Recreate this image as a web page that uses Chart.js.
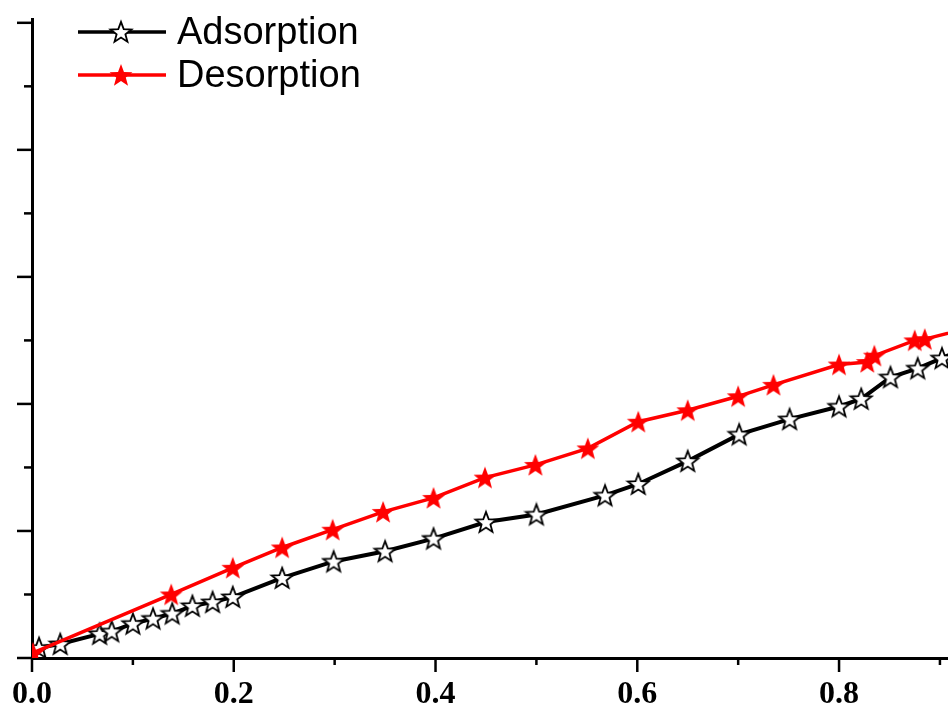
<!DOCTYPE html>
<html><head><meta charset="utf-8">
<script src="https://cdn.jsdelivr.net/npm/chart.js@4"></script>
<style>html,body{margin:0;padding:0;background:#fff}</style>
</head><body>
<canvas id="c" width="948" height="707"></canvas>
<script>
const seriesNames = ['Adsorption', 'Desorption'];
const adsX = [0.007, 0.028, 0.067, 0.079, 0.100, 0.120, 0.139, 0.159, 0.179, 0.199, 0.248, 0.299, 0.350, 0.398, 0.450, 0.500, 0.568, 0.601, 0.650, 0.701, 0.751, 0.800, 0.822, 0.851, 0.878, 0.902, 0.93];
const adsY = [0.08, 0.11, 0.19, 0.21, 0.27, 0.31, 0.35, 0.41, 0.44, 0.48, 0.63, 0.76, 0.84, 0.94, 1.07, 1.13, 1.28, 1.37, 1.55, 1.76, 1.88, 1.98, 2.04, 2.21, 2.28, 2.36, 2.46];
const desX = [0.001, 0.138, 0.199, 0.248, 0.298, 0.348, 0.398, 0.449, 0.499, 0.551, 0.601, 0.650, 0.700, 0.735, 0.800, 0.828, 0.835, 0.875, 0.885, 0.93];
const desY = [0.04, 0.50, 0.71, 0.87, 1.01, 1.15, 1.26, 1.42, 1.52, 1.65, 1.86, 1.95, 2.06, 2.15, 2.31, 2.33, 2.38, 2.50, 2.51, 2.60];
const xTickLabels = ['0.0', '0.2', '0.4', '0.6', '0.8'];

function starCanvas(fill, stroke, R, lw) {
  const s = Math.ceil(2 * R + 4);
  const cv = document.createElement('canvas');
  cv.width = s; cv.height = s;
  const g = cv.getContext('2d');
  const cx = s / 2, cy = s / 2 + R * 0.08;
  g.beginPath();
  for (let i = 0; i < 10; i++) {
    const r = i % 2 === 0 ? R : R * 0.42;
    const a = -Math.PI / 2 + i * Math.PI / 5;
    const px = cx + r * Math.cos(a), py = cy + r * Math.sin(a);
    if (i === 0) g.moveTo(px, py); else g.lineTo(px, py);
  }
  g.closePath();
  g.fillStyle = fill; g.fill();
  if (stroke) { g.lineWidth = lw; g.strokeStyle = stroke; g.lineJoin = 'miter'; g.stroke(); }
  return cv;
}
const openStar = starCanvas('#ffffff', '#000000', 11, 1.8);
const redStar = starCanvas('#ff0000', null, 12, 0);

const tickPlugin = {
  id: 'ticks',
  afterDraw(chart) {
    const { ctx, chartArea, scales } = chart;
    ctx.save();
    ctx.strokeStyle = '#000';
    ctx.lineWidth = 2.5;
    for (let k = 0; k <= 9; k++) {
      const v = k / 10;
      const px = scales.x.getPixelForValue(v);
      if (px > chartArea.right + 1) continue;
      const len = k % 2 === 0 ? 14 : 7;
      ctx.beginPath(); ctx.moveTo(px, chartArea.bottom); ctx.lineTo(px, chartArea.bottom + len); ctx.stroke();
    }
    for (let k = 0; k <= 10; k++) {
      const v = k / 2;
      const py = scales.y.getPixelForValue(v);
      const len = k % 2 === 0 ? 15 : 8;
      ctx.beginPath(); ctx.moveTo(chartArea.left, py); ctx.lineTo(chartArea.left - len, py); ctx.stroke();
    }
    // legend
    const items = [
      { name: seriesNames[0], color: '#000000', img: openStar, y: 32, lw: 3.5 },
      { name: seriesNames[1], color: '#ff0000', img: redStar, y: 75, lw: 3.5 }
    ];
    ctx.font = '38px "Liberation Sans", Arial, sans-serif';
    ctx.textBaseline = 'alphabetic';
    ctx.textAlign = 'left';
    items.forEach(it => {
      ctx.strokeStyle = it.color; ctx.lineWidth = it.lw;
      ctx.beginPath(); ctx.moveTo(78, it.y); ctx.lineTo(166, it.y); ctx.stroke();
      ctx.drawImage(it.img, 121 - it.img.width / 2, it.y - it.img.height / 2);
      ctx.fillStyle = '#000';
      ctx.fillText(it.name, 177, it.y + 12);
    });
    ctx.restore();
  }
};

const toPts = (xs, ys) => xs.map((x, i) => ({ x: x, y: ys[i] }));

new Chart(document.getElementById('c'), {
  type: 'line',
  data: {
    datasets: [
      {
        label: seriesNames[0], data: toPts(adsX, adsY), order: 1,
        borderColor: '#000000', borderWidth: 4, tension: 0,
        pointStyle: openStar, pointRadius: 11, pointHoverRadius: 11
      },
      {
        label: seriesNames[1], data: toPts(desX, desY), order: 0,
        borderColor: '#ff0000', borderWidth: 3.5, tension: 0,
        pointStyle: redStar, pointRadius: 12, pointHoverRadius: 12
      }
    ]
  },
  options: {
    responsive: false,
    animation: false,
    devicePixelRatio: 1,
    layout: { autoPadding: false, padding: { left: 32, right: 0, top: 19, bottom: 0 } },
    plugins: { legend: { display: false }, tooltip: { enabled: false } },
    scales: {
      x: {
        type: 'linear', min: 0, max: 0.908,
        grid: { display: false, drawTicks: false },
        border: { display: true, color: '#000', width: 3 },
        ticks: {
          stepSize: 0.2, includeBounds: false, autoSkip: false, maxRotation: 0,
          padding: 21, color: '#000',
          font: { family: '"Liberation Serif", "Times New Roman", serif', size: 32, weight: 'bold', lineHeight: 1 },
          callback: (v, i) => xTickLabels[i] ?? ''
        },
        afterFit(scale) { scale.height = 49; scale.paddingLeft = 0; scale.paddingRight = 0; }
      },
      y: {
        type: 'linear', min: 0, max: 5.03,
        grid: { display: false, drawTicks: false },
        border: { display: true, color: '#000', width: 3 },
        ticks: { display: false },
        afterFit(scale) { scale.width = 0; }
      }
    }
  },
  plugins: [tickPlugin]
});
</script>
</body></html>
